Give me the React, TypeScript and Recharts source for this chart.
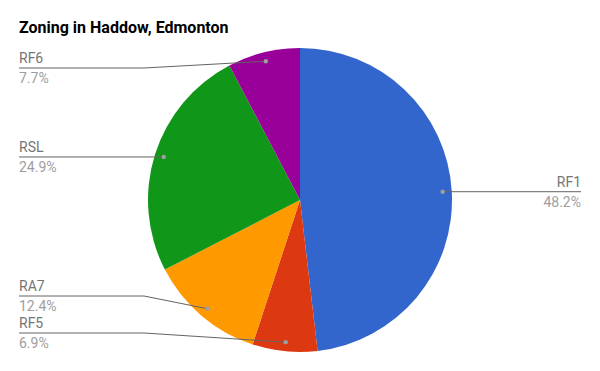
import React from 'react';
import { PieChart, Pie, Cell } from 'recharts';

const names = ['RF1', 'RF5', 'RA7', 'RSL', 'RF6'];
const values = [48.2, 6.9, 12.4, 24.9, 7.7];
const colors = ['#3366cc', '#dc3912', '#ff9900', '#109618', '#990099'];
const title = 'Zoning in Haddow, Edmonton';

const data = names.map((name, i) => ({ name, value: values[i] }));

const W = 600;
const H = 371;
const CX = 300;
const CY = 200;
const R = 152;
const GAP = 37;
const LEFT_X = 19;
const RIGHT_X = 581;

type Item = { x: number; y: number; lineY: number; side: 'left' | 'right' };

function computeLayout(cx: number, cy: number, r: number): Item[] {
  const total = values.reduce((a, b) => a + b, 0);
  let acc = 0;
  const items: Item[] = values.map((v) => {
    const mid = 90 - ((acc + v / 2) / total) * 360;
    acc += v;
    const rad = (mid * Math.PI) / 180;
    const dr = r * 0.94;
    const x = cx + dr * Math.cos(rad);
    const y = cy - dr * Math.sin(rad);
    return { x, y, lineY: y, side: Math.cos(rad) >= 0 ? 'right' : 'left' };
  });
  const minY = cy - r + 20;
  const maxY = cy + r - 19;
  (['left', 'right'] as const).forEach((side) => {
    const group = items.filter((it) => it.side === side).sort((a, b) => a.y - b.y);
    group.forEach((it) => {
      it.lineY = Math.min(maxY, Math.max(minY, it.y));
    });
    for (let i = 1; i < group.length; i++) {
      group[i].lineY = Math.max(group[i].lineY, group[i - 1].lineY + GAP);
    }
    if (group.length) group[group.length - 1].lineY = Math.min(group[group.length - 1].lineY, maxY);
    for (let i = group.length - 2; i >= 0; i--) {
      group[i].lineY = Math.min(group[i].lineY, group[i + 1].lineY - GAP);
    }
  });
  return items;
}

const renderLabel = (props: any) => {
  const { cx, cy, outerRadius, index, percent, name } = props;
  const items = computeLayout(cx, cy, outerRadius);
  const it = items[index];
  const left = it.side === 'left';
  const bendX = left ? cx - outerRadius - 4 : cx + outerRadius + 4;
  const endX = left ? LEFT_X : RIGHT_X;
  const bx = left ? Math.min(bendX, it.x) : Math.max(bendX, it.x);
  const d = `M${endX},${it.lineY} L${bx},${it.lineY} L${it.x},${it.y}`;
  const anchor = left ? 'start' : 'end';
  return (
    <g key={`lbl-${index}`}>
      <path d={d} stroke="#636363" strokeWidth={1} fill="none" />
      <circle cx={it.x} cy={it.y} r={2.2} fill="#9e9e9e" />
      <text x={endX} y={it.lineY - 5} textAnchor={anchor} fontFamily="Roboto" fontSize={14} fill="#757575">
        {name}
      </text>
      <text x={endX} y={it.lineY + 15} textAnchor={anchor} fontFamily="Roboto" fontSize={14} fill="#9e9e9e">
        {`${(percent * 100).toFixed(1)}%`}
      </text>
    </g>
  );
};

export default function App() {
  return (
    <div style={{ position: 'absolute', left: 0, top: 0, width: W, height: H, background: '#fff' }}>
      <div
        style={{
          position: 'absolute',
          left: 19,
          top: 20,
          fontFamily: 'Roboto',
          fontWeight: 'bold',
          fontSize: 16,
          lineHeight: '16px',
          color: '#000',
          whiteSpace: 'nowrap',
        }}
      >
        {title}
      </div>
      <PieChart width={W} height={H} margin={{ top: 0, right: 0, bottom: 0, left: 0 }}>
        <Pie
          data={data}
          dataKey="value"
          nameKey="name"
          cx={CX}
          cy={CY}
          outerRadius={R}
          startAngle={90}
          endAngle={-270}
          stroke="none"
          strokeWidth={0}
          label={renderLabel}
          labelLine={false}
          isAnimationActive={false}
        >
          {data.map((d, i) => (
            <Cell key={d.name} fill={colors[i]} stroke="none" />
          ))}
        </Pie>
      </PieChart>
    </div>
  );
}
